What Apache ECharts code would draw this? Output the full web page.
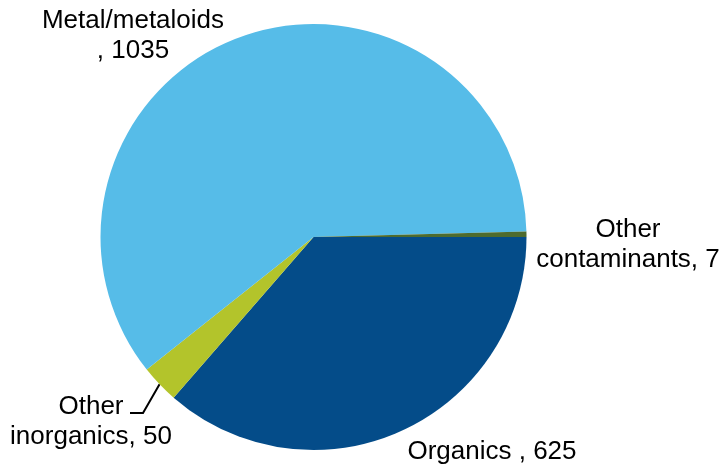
<!DOCTYPE html>
<html>
<head>
<meta charset="utf-8">
<script src="https://cdn.jsdelivr.net/npm/echarts@6/dist/echarts.min.js"></script>
<style>
html,body{margin:0;padding:0;background:#fff;}
#chart{width:725px;height:468px;}
</style>
</head>
<body>
<div id="chart"></div>
<script>
// Data (clockwise from 3 o'clock)
const categories = ['Organics', 'Other inorganics', 'Metal/metaloids', 'Other contaminants'];
const values = [625, 50, 1035, 7];
const labelTexts = ['Organics , 625', 'Other\ninorganics, 50', 'Metal/metaloids\n, 1035', 'Other\ncontaminants, 7'];

// Styling
const colors = ['#044C89', '#B3C42B', '#56BCE8', '#4E6B2E'];
const labelCenters = [[492, 452], [91, 422], [133, 36], [628, 245]];

const chart = echarts.init(document.getElementById('chart'), null, {renderer: 'canvas'});
chart.setOption({
  animation: false,
  backgroundColor: '#ffffff',
  series: [{
    type: 'pie',
    center: [313.5, 237],
    radius: 213,
    startAngle: 0,
    clockwise: true,
    avoidLabelOverlap: false,
    label: {
      show: true,
      position: 'outside',
      color: '#000',
      fontFamily: "'Liberation Sans', Arial, sans-serif",
      fontSize: 26,
      lineHeight: 30,
      align: 'center'
    },
    labelLine: {show: false},
    labelLayout: function (p) {
      const c = labelCenters[p.dataIndex];
      const res = {x: c[0], y: c[1], align: 'center', verticalAlign: 'middle'};
      if (p.dataIndex === 1 && p.labelLinePoints) {
        const s = p.labelLinePoints[0];
        res.labelLinePoints = [[s[0], s[1]], [143, 413], [130, 413]];
      }
      return res;
    },
    data: categories.map((name, i) => ({
      name: name,
      value: values[i],
      itemStyle: {color: colors[i], borderWidth: 0},
      label: {formatter: labelTexts[i]},
      labelLine: i === 1 ? {show: true, length: 10, length2: 10, lineStyle: {color: '#000', width: 2}} : {show: false}
    }))
  }]
});
</script>
</body>
</html>
